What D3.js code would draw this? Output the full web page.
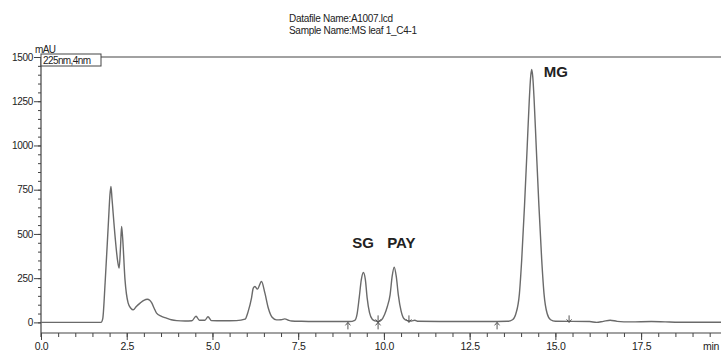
<!DOCTYPE html>
<html>
<head>
<meta charset="utf-8">
<script src="https://cdn.jsdelivr.net/npm/d3@7"></script>
<style>
  body { margin: 0; background: #fff; }
  text { font-family: "Liberation Sans", Arial, sans-serif; fill: #222; }
</style>
</head>
<body>
<div id="chart"></div>
<script>
// Chromatogram data (retention time in min, signal in mAU)
const times = [0, 1.75, 1.80, 1.87, 1.97, 2.01, 2.04, 2.07, 2.16, 2.24, 2.28, 2.32, 2.35, 2.38, 2.45, 2.54, 2.62, 2.69, 2.78, 2.89,
  3.00, 3.10, 3.17, 3.23, 3.30, 3.37, 3.50, 3.66, 3.80, 3.96, 4.20, 4.40, 4.52, 4.62, 4.78, 4.87, 4.97, 5.30, 5.70, 5.95,
  6.04, 6.14, 6.19, 6.24, 6.31, 6.43, 6.53, 6.63, 6.74, 6.87, 7.00, 7.11, 7.22, 7.31, 7.60, 8.00, 8.50, 9.00, 9.15, 9.22,
  9.28, 9.34, 9.40, 9.46, 9.51, 9.58, 9.66, 9.75, 9.83, 9.92, 10.02, 10.10, 10.18, 10.24, 10.30, 10.36, 10.42, 10.50, 10.58, 10.68,
  10.80, 10.90, 11.00, 12.00, 13.00, 13.60, 13.75, 13.85, 13.95, 14.02, 14.10, 14.18, 14.24, 14.28, 14.31, 14.34, 14.38, 14.44, 14.52, 14.60,
  14.67, 14.76, 14.86, 15.00, 16.00, 16.20, 16.40, 16.60, 16.80, 17.20, 17.80, 18.20, 18.60, 19.83];
const signal = [0, 0, 20, 224, 580, 720, 769, 700, 486, 340, 307, 430, 542, 480, 240, 110, 80, 71, 90, 109,
  125, 131, 125, 110, 80, 52, 35, 24, 15, 10, 8, 9, 35, 12, 12, 32, 10, 9, 10, 18,
  61, 139, 194, 203, 188, 231, 165, 80, 29, 14, 15, 20, 12, 8, 6, 5, 5, 5, 12, 50,
  140, 240, 282, 240, 140, 55, 18, 8, 4, 12, 45, 90, 156, 260, 312, 260, 156, 65, 22, 10,
  8, 12, 6, 5, 5, 6, 15, 50, 160, 360, 660, 1000, 1260, 1390, 1429, 1390, 1260, 1000, 660, 360,
  160, 50, 15, 6, 5, 0, 6, 12, 6, 3, 5, 3, 1, 1];

// Peak labels
const peakNames = ["SG", "PAY", "MG"];
const peakTimes = [9.40, 10.30, 14.31];
const peakHeights = [282, 312, 1429];

// Integration markers: 1 = up arrow below baseline, -1 = down arrow above, 0 = both
const markerTimes = [8.95, 9.83, 10.73, 13.30, 15.40];
const markerDirs = [1, 0, -1, 1, -1];

// Axis ticks
const xTicks = [0, 2.5, 5, 7.5, 10, 12.5, 15, 17.5];
const xTickLabels = ["0.0", "2.5", "5.0", "7.5", "10.0", "12.5", "15.0", "17.5"];
const yTicks = [0, 250, 500, 750, 1000, 1250, 1500];

const titleLines = ["Datafile Name:A1007.lcd", "Sample Name:MS leaf 1_C4-1"];

const W = 721, H = 351;
const margin = { top: 57, right: 0, bottom: 18, left: 41 };

const svg = d3.select("#chart").append("svg")
  .attr("width", W)
  .attr("height", H);

const x = d3.scaleLinear().domain([0, 19.83]).range([margin.left, W - margin.right]);
const y = d3.scaleLinear().domain([-60, 1500]).range([H - margin.bottom, margin.top]);

const axisColor = "#444";

// Title
svg.selectAll(".title")
  .data(titleLines)
  .enter().append("text")
  .attr("x", 289)
  .attr("y", (d, i) => 22 + i * 11.5)
  .style("font-size", "10px")
  .style("letter-spacing", "-0.3px")
  .text(d => d);

// Top frame line
svg.append("line")
  .attr("x1", margin.left).attr("x2", W)
  .attr("y1", y(1500)).attr("y2", y(1500))
  .attr("stroke", axisColor).attr("stroke-width", 1.2);

// Y axis: minor ticks every 50, major every 250
const yMinor = d3.range(0, 1501, 50);
svg.append("g")
  .attr("transform", `translate(${margin.left},0)`)
  .call(d3.axisLeft(y).tickValues(yMinor).tickSize(3).tickFormat(""))
  .call(g => g.select(".domain").remove())
  .selectAll("line").attr("stroke", axisColor);

svg.append("g")
  .attr("transform", `translate(${margin.left},0)`)
  .call(d3.axisLeft(y).tickValues(yTicks).tickSize(7).tickPadding(1).tickFormat(d3.format("d")))
  .call(g => g.select(".domain").remove())
  .call(g => g.selectAll("line").attr("stroke", axisColor))
  .call(g => g.selectAll("text")
    .style("font-size", "10px")
    .style("letter-spacing", "-0.3px")
    .attr("fill", "#222"));

svg.append("line")
  .attr("x1", margin.left).attr("x2", margin.left)
  .attr("y1", y(1500)).attr("y2", y(-60) + 4)
  .attr("stroke", axisColor).attr("stroke-width", 1.2);

// X axis: minor ticks every 0.5, major every 2.5
const xMinor = d3.range(0, 19.8, 0.5);
svg.append("g")
  .attr("transform", `translate(0,${y(-60)})`)
  .call(d3.axisBottom(x).tickValues(xMinor).tickSize(4).tickFormat(""))
  .call(g => g.select(".domain").remove())
  .selectAll("line").attr("stroke", axisColor);

svg.append("g")
  .attr("transform", `translate(0,${y(-60)})`)
  .call(d3.axisBottom(x).tickValues(xTicks).tickSize(7).tickPadding(3)
    .tickFormat((d, i) => xTickLabels[i]))
  .call(g => g.select(".domain").remove())
  .call(g => g.selectAll("line").attr("stroke", axisColor))
  .call(g => g.selectAll("text")
    .style("font-size", "10.5px")
    .style("letter-spacing", "-0.3px")
    .attr("fill", "#222"));

svg.append("line")
  .attr("x1", margin.left).attr("x2", W)
  .attr("y1", y(-60)).attr("y2", y(-60))
  .attr("stroke", axisColor).attr("stroke-width", 1.2);

svg.append("text")
  .attr("x", 703).attr("y", H - 1)
  .style("font-size", "10.5px")
  .style("letter-spacing", "-0.3px")
  .text("min");

// Unit label and wavelength box
svg.append("text")
  .attr("x", 35).attr("y", 53)
  .style("font-size", "10px")
  .style("letter-spacing", "-0.6px")
  .text("mAU");

svg.append("rect")
  .attr("x", margin.left).attr("y", 54)
  .attr("width", 60).attr("height", 12)
  .attr("fill", "#fff")
  .attr("stroke", axisColor).attr("stroke-width", 1);

svg.append("text")
  .attr("x", 43).attr("y", 64)
  .style("font-size", "10px")
  .style("letter-spacing", "-0.6px")
  .text("225nm,4nm");

// Trace
const trace = times.map((t, i) => [t, signal[i]]);
svg.append("path")
  .datum(trace)
  .attr("fill", "none")
  .attr("stroke", "#6a6a6a")
  .attr("stroke-width", 1.4)
  .attr("d", d3.line()
    .x(d => x(d[0]))
    .y(d => y(d[1]))
    .curve(d3.curveMonotoneX));

// Integration markers
const base = y(0);
markerTimes.forEach((t, i) => {
  const cx = x(t);
  const dir = markerDirs[i];
  const g = svg.append("g").attr("stroke", "#555").attr("stroke-width", 1).attr("fill", "none");
  if (dir >= 0) {
    // up arrow below the baseline
    g.append("path").attr("d", `M${cx},${base + 7}V${base}M${cx - 2.5},${base + 3}L${cx},${base}L${cx + 2.5},${base + 3}`);
  }
  if (dir <= 0) {
    // down arrow above the baseline
    g.append("path").attr("d", `M${cx},${base - 7}V${base}M${cx - 2.5},${base - 3}L${cx},${base}L${cx + 2.5},${base - 3}`);
  }
});

// Peak labels
const labelOffsets = [[-11, -24], [-7, -19], [12, 7]];
peakNames.forEach((name, i) => {
  svg.append("text")
    .attr("x", x(peakTimes[i]) + labelOffsets[i][0])
    .attr("y", y(peakHeights[i]) + labelOffsets[i][1])
    .style("font-size", "15px")
    .style("font-weight", "bold")
    .attr("fill", "#111")
    .text(name);
});
</script>
</body>
</html>
